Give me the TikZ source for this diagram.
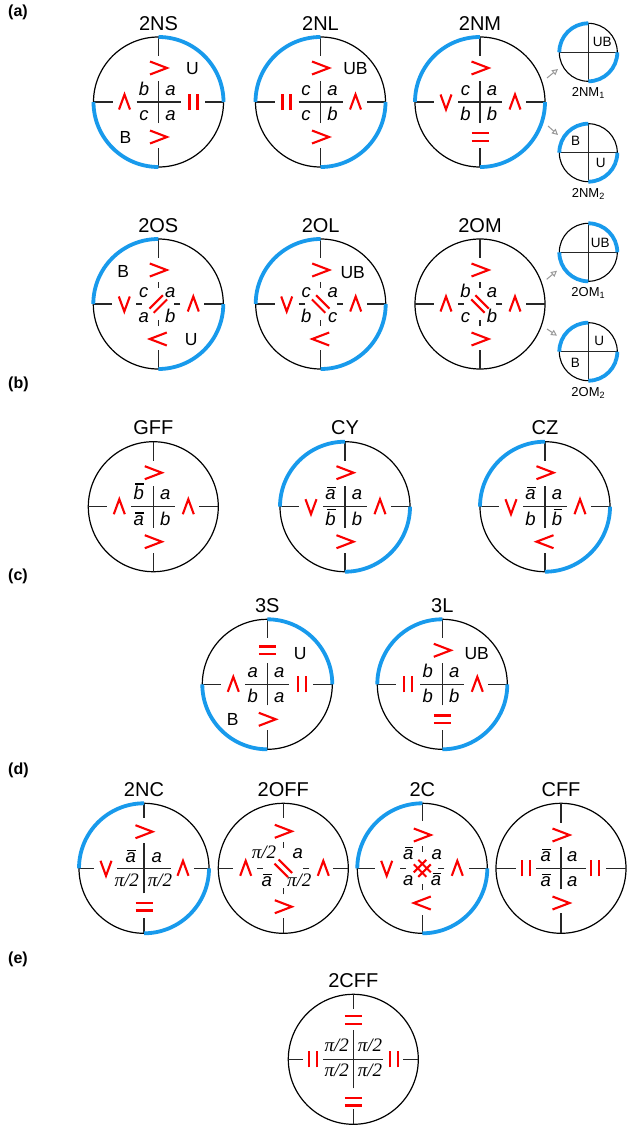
\documentclass[tikz,border=0pt]{standalone}
\usepackage{fontspec}
\setmainfont{Liberation Sans}
\newfontfamily\serifit{Liberation Serif}
\usetikzlibrary{arrows.meta}
\definecolor{ublue}{RGB}{24,154,236}
\definecolor{symred}{RGB}{250,0,0}
\newsavebox\obbox
\newcommand\ob[1]{\sbox\obbox{#1}\rlap{\kern1.8pt\raisebox{\dimexpr\ht\obbox+1.7pt\relax}{\rule{\dimexpr\wd\obbox-1.8pt\relax}{1.15pt}}}\usebox\obbox}
\newcommand\pit{{\serifit\itshape\fontsize{19}{21}\selectfont π/2}}
\newcommand\barc[3][65pt]{\draw[blue arc] (#2:#1) arc[start angle=#2, end angle=#3, radius=#1];}
\newcommand\axes[3]{%
  \draw[axis] (-65,0) -- ({-65+#1},0) (65,0) -- ({65-#1},0) (0,65) -- (0,{65-#1}) (0,-65) -- (0,{-65+#1});
  \draw[axis] (-#2,0) -- (#2,0) (0,-#3) -- (0,#3);}
\newcommand\daxes[3]{%
  \draw[axis] (-65,0) -- ({-65+#1},0) (65,0) -- ({65-#1},0) (0,65) -- (0,{65-#1}) (0,-65) -- (0,{-65+#1});
  \draw[axis] (-#2,0) -- (-#3,0) (#2,0) -- (#3,0) (0,#2) -- (0,#3) (0,-#2) -- (0,-#3);}
\newcommand\syms[4]{\pic at (0,34) {#1}; \pic at (-34,0) {#2}; \pic at (35,0) {#3}; \pic at (0,-35) {#4};}
\newcommand\lets[5]{%
  \node[lett] (#1-tl) at (-14.5,7) {#2};
  \node[lett] (#1-tr) at (12,7) {#3};
  \node[lett] (#1-bl) at (-14.5,-18.5) {#4};
  \node[lett] (#1-br) at (12,-18.5) {#5};}
\newcommand\smallaxes{\draw[axis] (-29,0) -- (29,0) (0,-29) -- (0,29);}
\tikzset{
  ring/.style={draw=black, line width=1.2pt, circle, minimum size=130pt, inner sep=0pt},
  sring/.style={draw=black, line width=1.1pt, circle, minimum size=58pt, inner sep=0pt},
  blue arc/.style={draw=ublue, line width=3.8pt},
  axis/.style={draw=black!85, line width=1.2pt},
  rsym/.style={draw=symred, line width=2.1pt, line join=miter, miter limit=10},
  lett/.style={font=\fontsize{18.5}{20}\selectfont\itshape, anchor=base, inner sep=0pt},
  ttl/.style={font=\fontsize{20}{22}\selectfont, anchor=base, inner sep=0pt},
  ublab/.style={font=\fontsize{17.5}{19}\selectfont, inner sep=0pt},
  smlab/.style={font=\fontsize{13.5}{15}\selectfont, inner sep=0pt},
  sublab/.style={font=\fontsize{13}{14}\selectfont, anchor=base, inner sep=0pt},
  panel/.style={font=\fontsize{16}{18}\selectfont\bfseries, inner sep=0pt, anchor=west},
  garrow/.style={draw=black!40, line width=1pt, -{Triangle[open, length=6pt, width=6pt]}},
  gt/.pic={\draw[rsym] (-8.5,6.5) -- (8.5,0) -- (-8.5,-6.5);},
  lt/.pic={\draw[rsym] (8.5,6.5) -- (-8.5,0) -- (8.5,-6.5);},
  up/.pic={\draw[rsym] (-5.5,-7.5) -- (0,7.5) -- (5.5,-7.5);},
  dn/.pic={\draw[rsym] (-5.5,7.5) -- (0,-7.5) -- (5.5,7.5);},
  par/.pic={\draw[rsym] (-4,-8) -- (-4,8) (4,-8) -- (4,8);},
  eq/.pic={\draw[rsym] (-8.5,3.8) -- (8.5,3.8) (-8.5,-3.8) -- (8.5,-3.8);},
  dslash/.pic={\draw[rsym] (-8.8,-4.6) -- (4.6,8.8) (-4.6,-8.8) -- (8.8,4.6);},
  dback/.pic={\draw[rsym] (-8.8,4.6) -- (4.6,-8.8) (-4.6,8.8) -- (8.8,-4.6);},
  dcross/.pic={\draw[rsym] (-8.5,-4) -- (4,8.5) (-4,-8.5) -- (8.5,4) (-8.5,4) -- (4,-8.5) (-4,8.5) -- (8.5,-4);}
}
\begin{document}
\begin{tikzpicture}[x=1pt,y=1pt]
\fill[white] (0,0) rectangle (638,-1127);
\useasboundingbox (0,0) rectangle (638,-1127);

% panel labels
\node[panel] (pa) at (8,-12) {(a)};
\node[panel] (pb) at (8,-384) {(b)};
\node[panel] (pc) at (8,-576) {(c)};
\node[panel] (pd) at (8,-770) {(d)};
\node[panel] (pe) at (8,-959) {(e)};

% ---------- (a) row 1
\begin{scope}[shift={(158.5,-102)}]
 \node[ring] (NS) {};
 \axes{19}{22}{21}
 \barc{0}{90}\barc{180}{270}
 \syms{gt}{up}{par}{gt}
 \lets{NS}{b}{a}{c}{a}
 \node[ublab] (NS-u) at (34,33) {U};
 \node[ublab] (NS-b) at (-33,-35) {B};
 \node[ttl] (NS-t) at (0,72) {2NS};
\end{scope}
\begin{scope}[shift={(320.5,-102)}]
 \node[ring] (NL) {};
 \axes{19}{22}{21}
 \barc{90}{180}\barc{270}{360}
 \syms{gt}{par}{up}{gt}
 \lets{NL}{c}{a}{c}{b}
 \node[ublab] (NL-ub) at (35,33) {UB};
 \node[ttl] (NL-t) at (0,72) {2NL};
\end{scope}
\begin{scope}[shift={(480,-102)}]
 \node[ring] (NM) {};
 \axes{19}{22}{21}
 \barc{90}{180}\barc{270}{360}
 \syms{gt}{dn}{up}{eq}
 \lets{NM}{c}{a}{b}{b}
 \node[ttl] (NM-t) at (0,72) {2NM};
\end{scope}
\begin{scope}[shift={(588.3,-52.3)}]
 \node[sring] (NM1) {};
 \smallaxes
 \barc[29pt]{90}{180}\barc[29pt]{270}{360}
 \node[smlab] (NM1-ub) at (14,10.6) {UB};
 \node[sublab] (NM1-t) at (0,-44.5) {2NM\textsubscript{1}};
\end{scope}
\begin{scope}[shift={(588.3,-152.7)}]
 \node[sring] (NM2) {};
 \smallaxes
 \barc[29pt]{90}{180}\barc[29pt]{270}{360}
 \node[smlab] (NM2-b) at (-12.6,12) {B};
 \node[smlab] (NM2-u) at (12.4,-10.6) {U};
 \node[sublab] (NM2-t) at (0,-44.5) {2NM\textsubscript{2}};
\end{scope}
\coordinate (a1s) at (547,-78);   \coordinate (a1e) at (558,-69);
\coordinate (a2s) at (548,-126);  \coordinate (a2e) at (558,-135);
\draw[garrow] (a1s) -- (a1e);
\draw[garrow] (a2s) -- (a2e);

% ---------- (a) row 2
\begin{scope}[shift={(158.3,-304)}]
 \node[ring] (OS) {};
 \daxes{19}{22}{16}
 \barc{90}{180}\barc{270}{360}
 \syms{gt}{dn}{up}{lt}
 \lets{OS}{c}{a}{a}{b}
 \pic at (0,0) {dslash};
 \node[ublab] (OS-b) at (-35,33) {B};
 \node[ublab] (OS-u) at (33,-36) {U};
 \node[ttl] (OS-t) at (0,72) {2OS};
\end{scope}
\begin{scope}[shift={(320.7,-304)}]
 \node[ring] (OL) {};
 \daxes{19}{22}{16}
 \barc{90}{180}\barc{270}{360}
 \syms{gt}{dn}{up}{lt}
 \lets{OL}{c}{a}{b}{c}
 \pic at (0,0) {dback};
 \node[ublab] (OL-ub) at (32,31) {UB};
 \node[ttl] (OL-t) at (0,72) {2OL};
\end{scope}
\begin{scope}[shift={(480,-304)}]
 \node[ring] (OM) {};
 \daxes{19}{22}{16}
 \syms{gt}{up}{up}{gt}
 \lets{OM}{b}{a}{c}{b}
 \pic at (0,0) {dback};
 \node[ttl] (OM-t) at (0,72) {2OM};
\end{scope}
\begin{scope}[shift={(588.3,-252.3)}]
 \node[sring] (OM1) {};
 \smallaxes
 \barc[29pt]{0}{90}\barc[29pt]{180}{270}
 \node[smlab] (OM1-ub) at (12,9.5) {UB};
 \node[sublab] (OM1-t) at (0,-44.5) {2OM\textsubscript{1}};
\end{scope}
\begin{scope}[shift={(588.3,-351.7)}]
 \node[sring] (OM2) {};
 \smallaxes
 \barc[29pt]{90}{180}\barc[29pt]{270}{360}
 \node[smlab] (OM2-u) at (11,11) {U};
 \node[smlab] (OM2-b) at (-13,-11) {B};
 \node[sublab] (OM2-t) at (0,-44.5) {2OM\textsubscript{2}};
\end{scope}
\coordinate (a3s) at (546.7,-279.3); \coordinate (a3e) at (557,-270.7);
\coordinate (a4s) at (547,-329);     \coordinate (a4e) at (557,-335.7);
\draw[garrow] (a3s) -- (a3e);
\draw[garrow] (a4s) -- (a4e);

% ---------- (b)
\begin{scope}[shift={(153.3,-506.7)}]
 \node[ring] (GFF) {};
 \axes{19}{22}{21}
 \syms{gt}{up}{up}{gt}
 \lets{GFF}{\ob{b}}{a}{\ob{a}}{b}
 \node[ttl] (GFF-t) at (0,72) {GFF};
\end{scope}
\begin{scope}[shift={(345,-506.7)}]
 \node[ring] (CY) {};
 \axes{19}{22}{21}
 \barc{90}{180}\barc{270}{360}
 \syms{gt}{dn}{up}{gt}
 \lets{CY}{\ob{a}}{a}{\ob{b}}{b}
 \node[ttl] (CY-t) at (0,72) {CY};
\end{scope}
\begin{scope}[shift={(545,-506.7)}]
 \node[ring] (CZ) {};
 \axes{19}{22}{21}
 \barc{90}{180}\barc{270}{360}
 \syms{gt}{dn}{up}{lt}
 \lets{CZ}{\ob{a}}{a}{b}{\ob{b}}
 \node[ttl] (CZ-t) at (0,72) {CZ};
\end{scope}

% ---------- (c)
\begin{scope}[shift={(267.3,-684.3)}]
 \node[ring] (S3) {};
 \axes{19}{22}{21}
 \barc{0}{90}\barc{180}{270}
 \syms{eq}{up}{par}{gt}
 \lets{S3}{a}{a}{b}{a}
 \node[ublab] (S3-u) at (33,31) {U};
 \node[ublab] (S3-b) at (-34.6,-34.7) {B};
 \node[ttl] (S3-t) at (0,72) {3S};
\end{scope}
\begin{scope}[shift={(442.3,-684.3)}]
 \node[ring] (L3) {};
 \axes{19}{22}{21}
 \barc{90}{180}\barc{270}{360}
 \syms{gt}{par}{up}{eq}
 \lets{L3}{b}{a}{b}{b}
 \node[ublab] (L3-ub) at (34.4,31) {UB};
 \node[ttl] (L3-t) at (0,72) {3L};
\end{scope}

% ---------- (d)
\begin{scope}[shift={(144,-868.3)}]
 \node[ring] (NC) {};
 \axes{15}{27}{25}
 \barc{90}{180}\barc{270}{360}
 \pic at (0,36.6) {gt}; \pic at (-38,0) {dn}; \pic at (39,0) {up}; \pic at (0,-38.4) {eq};
 \node[lett] (NC-tl) at (-13.3,6) {\ob{a}};
 \node[lett] (NC-tr) at (12.7,6) {a};
 \node[lett] (NC-bl) at (-17.3,-18.4) {\pit};
 \node[lett] (NC-br) at (16,-18.4) {\pit};
 \node[ttl] (NC-t) at (0,72) {2NC};
\end{scope}
\begin{scope}[shift={(283.3,-868.3)}]
 \node[ring] (OFF) {};
 \daxes{15}{26}{20}
 \pic at (0,37) {gt}; \pic at (-37.6,0) {up}; \pic at (40,0) {up}; \pic at (0,-38.4) {gt};
 \pic at (0,0) {dback};
 \node[lett] (OFF-tl) at (-19.3,10) {\pit};
 \node[lett] (OFF-tr) at (14.4,10) {a};
 \node[lett] (OFF-bl) at (-16.6,-18.4) {\ob{a}};
 \node[lett] (OFF-br) at (16,-18.4) {\pit};
 \node[ttl] (OFF-t) at (0,72) {2OFF};
\end{scope}
\begin{scope}[shift={(422.3,-868.3)}]
 \node[ring] (C2) {};
 \daxes{18}{22}{16}
 \barc{90}{180}\barc{270}{360}
 \pic at (0,33.3) {gt}; \pic at (-35.6,0) {dn}; \pic at (35,0) {up}; \pic at (0,-34.7) {lt};
 \pic at (0,0) {dcross};
 \node[lett] (C2-tl) at (-14,9) {\ob{a}};
 \node[lett] (C2-tr) at (14.4,9) {a};
 \node[lett] (C2-bl) at (-14,-17.5) {a};
 \node[lett] (C2-br) at (13.7,-17.5) {\ob{a}};
 \node[ttl] (C2-t) at (0,72) {2C};
\end{scope}
\begin{scope}[shift={(561,-868.3)}]
 \node[ring] (CFF) {};
 \axes{20}{25}{21}
 \pic at (0,33.3) {gt}; \pic at (-35,0) {par}; \pic at (34,0) {par}; \pic at (0,-34.7) {gt};
 \node[lett] (CFF-tl) at (-15.3,7) {\ob{a}};
 \node[lett] (CFF-tr) at (11.3,7) {a};
 \node[lett] (CFF-bl) at (-15.3,-18.5) {\ob{a}};
 \node[lett] (CFF-br) at (11.3,-18.5) {a};
 \node[ttl] (CFF-t) at (0,72) {CFF};
\end{scope}

% ---------- (e)
\begin{scope}[shift={(353.3,-1059.3)}]
 \node[ring] (CFF2) {};
 \axes{15}{30}{29}
 \pic at (0,39.3) {eq}; \pic at (-40.6,0) {par}; \pic at (40.7,0) {par}; \pic at (0,-42.4) {eq};
 \node[lett] (CFF2-tl) at (-16.6,7.6) {\pit};
 \node[lett] (CFF2-tr) at (16.7,7.6) {\pit};
 \node[lett] (CFF2-bl) at (-16.6,-17.4) {\pit};
 \node[lett] (CFF2-br) at (16.7,-17.4) {\pit};
 \node[ttl] (CFF2-t) at (0,72) {2CFF};
\end{scope}
\end{tikzpicture}
\end{document}
